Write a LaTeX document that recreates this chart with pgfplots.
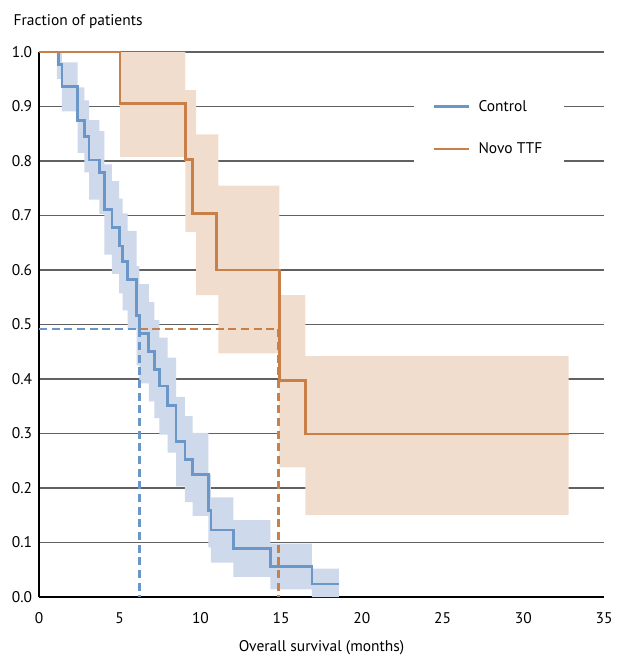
\documentclass[border=0pt]{standalone}
\usepackage{fontspec}
\setmainfont{PT Sans}
\usepackage{pgfplots}
\pgfplotsset{compat=1.18}
\definecolor{ctrl}{RGB}{106,150,200}
\definecolor{ctrlband}{RGB}{206,217,235}
\definecolor{novo}{RGB}{200,127,72}
\definecolor{novoband}{RGB}{241,221,206}
\newcommand{\chartfont}{\fontsize{11.6}{13.5}\selectfont}
\begin{document}
\begin{tikzpicture}
\begin{axis}[
  scale only axis, width=423.75pt, height=408.75pt,
  xmin=0, xmax=35, ymin=0, ymax=1,
  clip=false,
  axis x line*=bottom, axis y line*=left,
  axis line style={black, line width=1pt, -},
  xtick={0,5,10,15,20,25,30,35},
  ytick={0,0.1,0.2,0.3,0.4,0.5,0.6,0.7,0.8,0.9,1},
  major tick length=0pt,
  ymajorgrids, grid style={black!62, line width=0.8pt},
  /pgf/number format/assume math mode=true,
  yticklabel={\pgfmathprintnumber[fixed,fixed zerofill,precision=1]{\tick}},
  yticklabel style={font=\chartfont, anchor=east, inner sep=0pt, xshift=-5pt},
  xticklabel style={font=\chartfont, anchor=base, yshift=-20pt},
  xlabel={Overall survival (months)},
  xlabel style={font=\chartfont, at={(axis description cs:0.5,0)}, anchor=base, yshift=-40.5pt},
  ylabel={Fraction of patients},
  ylabel style={font=\chartfont, rotate=-90, at={(axis description cs:0,1)}, anchor=base west, xshift=-22.5pt, yshift=20pt},
  legend cell align=left,
  legend style={at={(rel axis cs:0.664,0.861)}, anchor=west, draw=none, fill=white,
    inner xsep=14pt, inner ysep=10pt, row sep=18pt, column sep=4pt, font=\chartfont},
  legend image code/.code={\draw[#1, line width=2.1pt, solid] (0pt,0pt) -- (26pt,0pt);},
]
% Novo TTF confidence band
\addplot[fill=novoband, draw=none, forget plot] coordinates {
 (5.02,1.0) (9.07,1.0) (9.07,0.930) (9.73,0.930) (9.73,0.849) (11.11,0.849)
 (11.11,0.755) (14.89,0.755) (14.89,0.554) (16.5,0.554) (16.5,0.442) (32.81,0.442)
 (32.81,0.150) (16.5,0.150) (16.5,0.238) (14.89,0.238) (14.89,0.447) (11.11,0.447)
 (11.11,0.554) (9.73,0.554) (9.73,0.670) (9.07,0.670) (9.07,0.807) (5.02,0.807)
};
% Control confidence band
\addplot[fill=ctrlband, draw=none, forget plot] coordinates {
 (1.1,1.0) (1.42,1.0) (1.42,0.981) (2.40,0.981) (2.40,0.935) (2.81,0.935)
 (2.81,0.911) (3.10,0.911) (3.10,0.875) (3.74,0.875) (3.74,0.855) (4.05,0.855)
 (4.05,0.794) (4.52,0.794) (4.52,0.763) (4.97,0.763) (4.97,0.731) (5.18,0.731)
 (5.18,0.704) (5.49,0.704) (5.49,0.672) (6.05,0.672) (6.05,0.607) (6.22,0.607)
 (6.22,0.574) (6.80,0.574) (6.80,0.541) (7.15,0.541) (7.15,0.508) (7.45,0.508)
 (7.45,0.476) (7.97,0.476) (7.97,0.439) (8.49,0.439) (8.49,0.367) (9.04,0.367)
 (9.04,0.332) (9.52,0.332) (9.52,0.301) (10.49,0.301) (10.49,0.225) (10.65,0.225)
 (10.65,0.183) (12.04,0.183) (12.04,0.141) (14.33,0.141) (14.33,0.098) (16.91,0.098)
 (16.91,0.052) (18.57,0.052)
 (18.57,0.000) (16.91,0.000) (16.91,0.014) (14.33,0.014) (14.33,0.037) (12.04,0.037)
 (12.04,0.063) (10.65,0.063) (10.65,0.091) (10.49,0.091) (10.49,0.149) (9.52,0.149)
 (9.52,0.174) (9.04,0.174) (9.04,0.203) (8.49,0.203) (8.49,0.265) (7.97,0.265)
 (7.97,0.298) (7.45,0.298) (7.45,0.328) (7.15,0.328) (7.15,0.359) (6.80,0.359)
 (6.80,0.392) (6.22,0.392) (6.22,0.425) (6.05,0.425) (6.05,0.492) (5.49,0.492)
 (5.49,0.526) (5.18,0.526) (5.18,0.557) (4.97,0.557) (4.97,0.593) (4.52,0.593)
 (4.52,0.628) (4.05,0.628) (4.05,0.703) (3.74,0.703) (3.74,0.729) (3.10,0.729)
 (3.10,0.779) (2.81,0.779) (2.81,0.815) (2.40,0.815) (2.40,0.891) (1.42,0.891)
 (1.42,0.950) (1.1,0.950)
};
% median dashed lines
\addplot[ctrl, line width=1.9pt, dash pattern=on 6pt off 3.5pt, forget plot] coordinates {
 (0,0.492) (6.24,0.492) (6.24,0)
};
\addplot[novo, line width=1.9pt, dash pattern=on 6pt off 3.5pt, forget plot] coordinates {
 (6.24,0.492) (14.85,0.492) (14.85,0)
};
% Control KM curve
\addplot[ctrl, line width=2.1pt, const plot mark left] coordinates {
 (1.22,1.000) (1.22,0.977) (1.42,0.936) (2.40,0.875) (2.81,0.845) (3.10,0.802)
 (3.74,0.779) (4.05,0.711) (4.52,0.678) (4.97,0.644) (5.18,0.615) (5.49,0.582)
 (6.05,0.516) (6.22,0.483) (6.80,0.450) (7.15,0.418) (7.45,0.387) (7.97,0.352)
 (8.49,0.285) (9.04,0.253) (9.52,0.225) (10.49,0.158) (10.65,0.123) (12.04,0.089)
 (14.33,0.056) (16.91,0.024) (18.57,0.024)
};
\addlegendentry{Control}
% Novo TTF KM curve
\addplot[novo, line width=2.1pt, const plot mark left] coordinates {
 (0,1.0) (5.02,0.905) (9.07,0.803) (9.52,0.703) (11.0,0.600) (14.89,0.397)
 (16.5,0.299) (32.85,0.299)
};
\addlegendentry{Novo TTF}
\end{axis}
\pgfresetboundingbox
\path ([xshift=-29.25pt,yshift=-44.25pt]current axis.south west) rectangle ([xshift=10.5pt,yshift=39pt]current axis.north east);
\end{tikzpicture}
\end{document}
